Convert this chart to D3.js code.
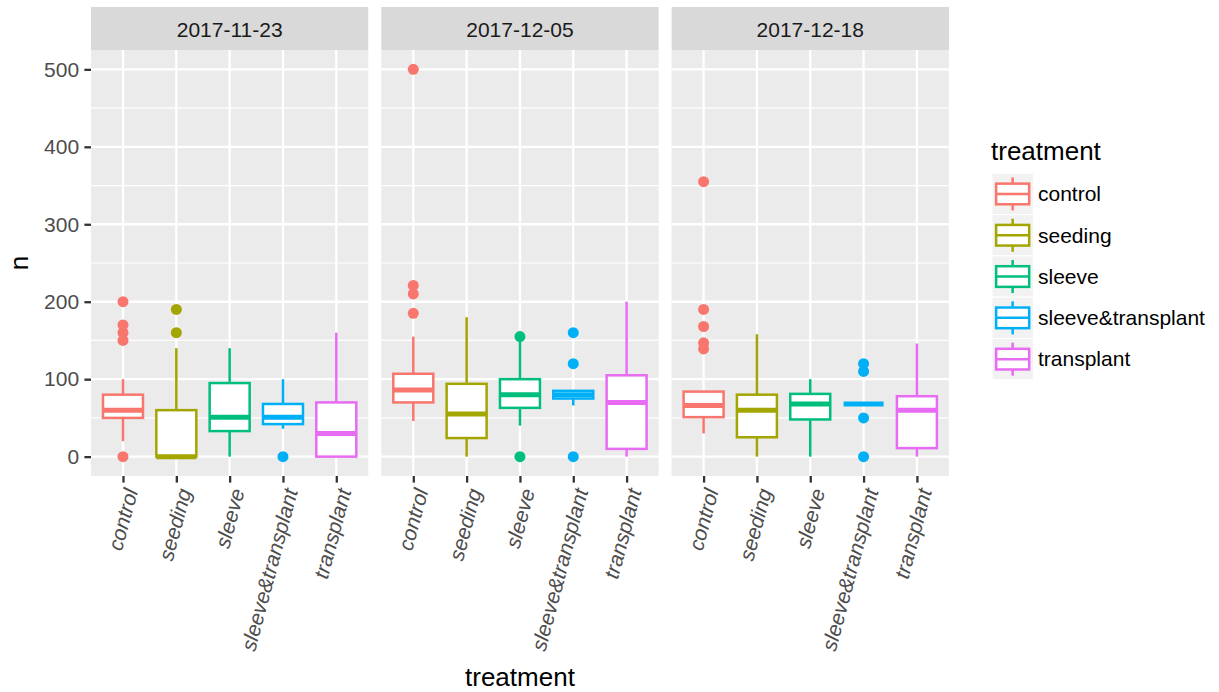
<!DOCTYPE html>
<html>
<head>
<meta charset="utf-8">
<script src="https://cdn.jsdelivr.net/npm/d3@7"></script>
<style>
  body { margin: 0; background: #ffffff; }
  svg { display: block; }
  text { font-family: "Liberation Sans", Arial, Helvetica, sans-serif; }
</style>
</head>
<body>
<div id="chart"></div>
<script>
// ---------------- data ----------------
const dates = ["2017-11-23", "2017-12-05", "2017-12-18"];
const treatments = ["control", "seeding", "sleeve", "sleeve&transplant", "transplant"];
const colors = ["#F8766D", "#A3A500", "#00BF7D", "#00B0F6", "#E76BF3"];
const yTicks = [0, 100, 200, 300, 400, 500];
const yMinor = [50, 150, 250, 350, 450];

// rows = dates, columns = treatments
const whiskerLow  = [[20, 0, 0, 36, 0], [46, 0, 40, 66, 0], [30, 0, 0, 68, 0]];
const q1          = [[50, 0, 33, 42, 0], [70, 24, 63, 75, 10], [51, 25, 48, 68, 11]];
const median      = [[60, 0, 51, 51, 30], [86, 55, 80, 80, 70], [66, 60, 68, 68, 60]];
const q3          = [[80, 60, 95, 68, 70], [107, 94, 100, 85, 105], [84, 80, 81, 68, 78]];
const whiskerHigh = [[100, 140, 140, 100, 160], [155, 180, 150, 85, 200], [84, 158, 100, 68, 146]];
const outliers = [
  [[0, 150, 160, 170, 200], [160, 190], [], [0], []],
  [[185, 210, 221, 500], [], [0, 155], [0, 120, 160], []],
  [[139, 147, 168, 190, 355], [], [], [0, 50, 110, 120], []]
];

// ---------------- layout ----------------
const W = 1219, H = 692;
const panelLeft = 91, panelW = 277.3, panelGap = 13;
const panelTop = 50, panelBottom = 476;
const stripTop = 7;
const lw = 2.5;        // box line width
const gridMajor = 2.3, gridMinor = 1.2;

const svg = d3.select("#chart").append("svg")
  .attr("width", W).attr("height", H)
  .style("background", "#ffffff");

const y = d3.scaleLinear().domain([-25, 525]).range([panelBottom, panelTop]);
const x = d3.scalePoint().domain(treatments).range([0, panelW]).padding(0.6);
const color = d3.scaleOrdinal().domain(treatments).range(colors);
const boxW = x.step() * 0.75;

dates.forEach((date, d) => {
  const px = panelLeft + d * (panelW + panelGap);
  const g = svg.append("g").attr("transform", `translate(${px},0)`);

  // panel background
  g.append("rect").attr("x", 0).attr("y", panelTop)
    .attr("width", panelW).attr("height", panelBottom - panelTop)
    .attr("fill", "#EBEBEB");

  // minor grid
  g.selectAll("line.minor").data(yMinor).enter().append("line")
    .attr("x1", 0).attr("x2", panelW)
    .attr("y1", v => y(v)).attr("y2", v => y(v))
    .attr("stroke", "#ffffff").attr("stroke-width", gridMinor);
  // major grid
  g.selectAll("line.majorY").data(yTicks).enter().append("line")
    .attr("x1", 0).attr("x2", panelW)
    .attr("y1", v => y(v)).attr("y2", v => y(v))
    .attr("stroke", "#ffffff").attr("stroke-width", gridMajor);
  g.selectAll("line.majorX").data(treatments).enter().append("line")
    .attr("x1", t => x(t)).attr("x2", t => x(t))
    .attr("y1", panelTop).attr("y2", panelBottom)
    .attr("stroke", "#ffffff").attr("stroke-width", gridMajor);

  // strip
  g.append("rect").attr("x", 0).attr("y", stripTop)
    .attr("width", panelW).attr("height", panelTop - stripTop)
    .attr("fill", "#D9D9D9");
  g.append("text").attr("x", panelW / 2).attr("y", 36.5)
    .attr("text-anchor", "middle").attr("font-size", 21)
    .attr("fill", "#1A1A1A").text(date);

  // boxes
  treatments.forEach((t, i) => {
    const cx = x(t);
    const col = color(t);
    const bg = g.append("g");
    // whiskers
    bg.append("line").attr("x1", cx).attr("x2", cx)
      .attr("y1", y(q3[d][i])).attr("y2", y(whiskerHigh[d][i]))
      .attr("stroke", col).attr("stroke-width", lw);
    bg.append("line").attr("x1", cx).attr("x2", cx)
      .attr("y1", y(q1[d][i])).attr("y2", y(whiskerLow[d][i]))
      .attr("stroke", col).attr("stroke-width", lw);
    // box
    bg.append("rect").attr("x", cx - boxW / 2).attr("y", y(q3[d][i]))
      .attr("width", boxW).attr("height", Math.max(0, y(q1[d][i]) - y(q3[d][i])))
      .attr("fill", "#ffffff").attr("stroke", col).attr("stroke-width", lw);
    // median
    bg.append("line").attr("x1", cx - boxW / 2).attr("x2", cx + boxW / 2)
      .attr("y1", y(median[d][i])).attr("y2", y(median[d][i]))
      .attr("stroke", col).attr("stroke-width", lw * 2);
    // outliers
    bg.selectAll("circle").data(outliers[d][i]).enter().append("circle")
      .attr("cx", cx).attr("cy", v => y(v)).attr("r", 5.5)
      .attr("fill", col);
  });

  // x axis
  const xAxis = g.append("g").attr("transform", `translate(0,${panelBottom})`)
    .call(d3.axisBottom(x).tickSize(6.6).tickPadding(0));
  xAxis.select(".domain").remove();
  xAxis.selectAll(".tick line").attr("stroke", "#333333").attr("stroke-width", 2.3);
  xAxis.selectAll(".tick text")
    .attr("font-size", 21).attr("font-style", "italic")
    .attr("fill", "#4D4D4D")
    .attr("text-anchor", "end")
    .attr("y", 0).attr("dy", "0.72em")
    .attr("transform", "translate(0,11) rotate(-75)");

  // y axis on first panel
  if (d === 0) {
    const yAxis = g.append("g")
      .call(d3.axisLeft(y).tickValues(yTicks).tickSize(6.6).tickPadding(5.3));
    yAxis.select(".domain").remove();
    yAxis.selectAll(".tick line").attr("stroke", "#333333").attr("stroke-width", 2.3);
    yAxis.selectAll(".tick text").attr("font-size", 21).attr("fill", "#4D4D4D")
      .attr("font-family", "'Liberation Sans', Arial, sans-serif");
  }
});

// axis titles
svg.append("text").attr("x", (panelLeft + panelLeft + 3 * panelW + 2 * panelGap) / 2)
  .attr("y", 686).attr("text-anchor", "middle").attr("font-size", 26)
  .attr("fill", "#000").text("treatment");
svg.append("text").attr("transform", `translate(28,${(panelTop + panelBottom) / 2}) rotate(-90)`)
  .attr("text-anchor", "middle").attr("font-size", 26).attr("fill", "#000").text("n");

// legend
const legX = 992, legY = 173.3, keyS = 41.3;
const leg = svg.append("g");
leg.append("text").attr("x", 991).attr("y", 160).attr("font-size", 26)
  .attr("fill", "#000").text("treatment");
treatments.forEach((t, i) => {
  const ky = legY + i * keyS;
  const col = color(t);
  const kg = leg.append("g").attr("transform", `translate(${legX},${ky})`);
  kg.append("rect").attr("width", keyS).attr("height", keyS)
    .attr("fill", "#F2F2F2").attr("stroke", "#ffffff").attr("stroke-width", 1);
  kg.append("line").attr("x1", keyS / 2).attr("x2", keyS / 2)
    .attr("y1", keyS * 0.1).attr("y2", keyS * 0.25)
    .attr("stroke", col).attr("stroke-width", lw);
  kg.append("line").attr("x1", keyS / 2).attr("x2", keyS / 2)
    .attr("y1", keyS * 0.75).attr("y2", keyS * 0.9)
    .attr("stroke", col).attr("stroke-width", lw);
  kg.append("rect").attr("x", keyS * 0.1).attr("y", keyS * 0.25)
    .attr("width", keyS * 0.8).attr("height", keyS * 0.5)
    .attr("fill", "#ffffff").attr("stroke", col).attr("stroke-width", lw);
  kg.append("line").attr("x1", keyS * 0.1).attr("x2", keyS * 0.9)
    .attr("y1", keyS / 2).attr("y2", keyS / 2)
    .attr("stroke", col).attr("stroke-width", lw);
  leg.append("text").attr("x", 1038).attr("y", ky + keyS / 2 + 7.3)
    .attr("font-size", 21).attr("fill", "#000").text(t);
});
</script>
</body>
</html>
